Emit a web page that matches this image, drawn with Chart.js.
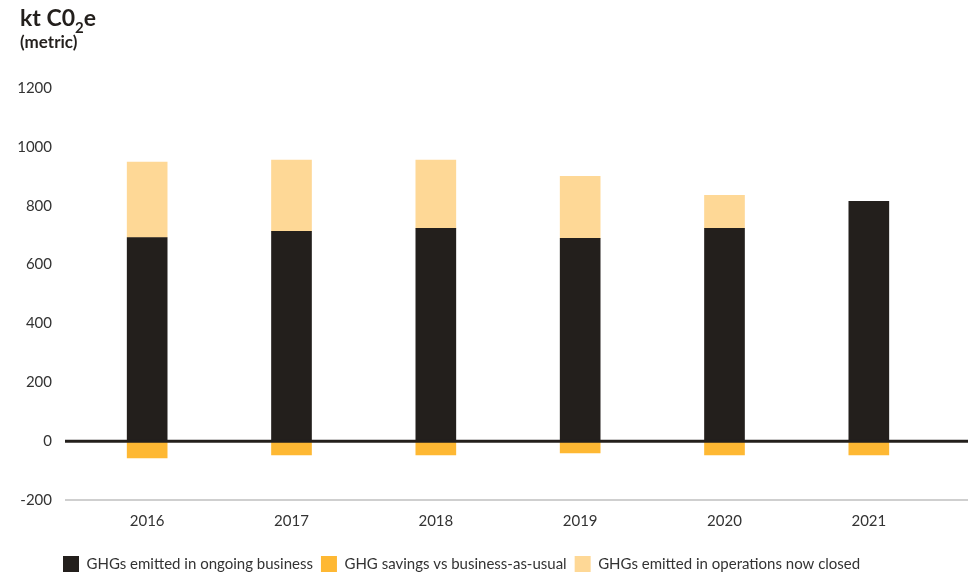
<!DOCTYPE html>
<html>
<head>
<meta charset="utf-8">
<script src="https://cdn.jsdelivr.net/npm/chart.js@4/dist/chart.umd.min.js"></script>
<style>
  html, body { margin: 0; padding: 0; background: #fff; }
  #wrap { position: relative; width: 977px; height: 576px; }
  #title { position: absolute; left: 20px; top: 6px; font-family: "Lato", sans-serif; font-weight: 700; color: #231f1c; line-height: 1; z-index: 2; }
  #title .main { font-size: 23px; }
  #title .main sub { font-size: 15px; vertical-align: -7px; line-height: 0; }
  #title .unit { font-size: 17px; margin-top: 4px; }
  canvas { position: absolute; left: 0; top: 0; }
</style>
</head>
<body>
<div id="wrap">
  <canvas id="c" width="977" height="576"></canvas>
  <div id="title"><div class="main">kt C0<sub>2</sub>e</div><div class="unit">(metric)</div></div>
</div>
<script>
const categories = ["2016", "2017", "2018", "2019", "2020", "2021"];
const ongoingEmissions = [692, 713, 723, 689, 723, 815];
const savingsVsBAU = [-57, -47, -47, -40, -47, -47];
const closedOperations = [256, 242, 232, 211, 112, null];
const yTicks = [-200, 0, 200, 400, 600, 800, 1000, 1200];
const seriesNames = ["GHGs emitted in ongoing business", "GHG savings vs business-as-usual", "GHGs emitted in operations now closed"];

const FONT = { family: "Lato, 'Liberation Sans', sans-serif", size: 15 };

const baseLines = {
  id: 'baseLines',
  afterLayout(chart) {
    const lg = chart.legend;
    if (lg) {
      const dx = 55 - lg.left;
      lg.left += dx; lg.right += dx;
      lg.top += 6; lg.bottom += 6;
    }
  },
  afterDatasetsDraw(chart) {
    const ctx = chart.ctx;
    const y = chart.scales.y;
    const x0 = 65, x1 = 968;
    ctx.save();
    const yb = y.getPixelForValue(yTicks[0]);
    ctx.strokeStyle = '#cfcfcf';
    ctx.lineWidth = 2;
    ctx.beginPath(); ctx.moveTo(x0, yb); ctx.lineTo(x1, yb); ctx.stroke();
    const y0 = y.getPixelForValue(0);
    ctx.strokeStyle = '#231f1c';
    ctx.lineWidth = 3;
    ctx.beginPath(); ctx.moveTo(x0, y0); ctx.lineTo(x1, y0); ctx.stroke();
    ctx.restore();
  }
};

new Chart(document.getElementById('c'), {
  type: 'bar',
  data: {
    labels: categories,
    datasets: [
      { label: seriesNames[0], data: ongoingEmissions, backgroundColor: '#231f1c', stack: 's' },
      { label: seriesNames[1], data: savingsVsBAU, backgroundColor: '#feb833', stack: 's' },
      { label: seriesNames[2], data: closedOperations, backgroundColor: '#fed896', stack: 's' }
    ]
  },
  options: {
    responsive: false,
    animation: false,
    layout: { padding: { left: 0, right: 36, top: 88, bottom: 0 } },
    datasets: { bar: { barThickness: 40, borderWidth: 0 } },
    scales: {
      x: {
        stacked: true,
        grid: { display: false, drawTicks: false },
        border: { display: false },
        ticks: { color: '#333', font: FONT, padding: 12 },
        afterFit(s) { s.height = 42; }
      },
      y: {
        stacked: true,
        min: -200, max: 1200,
        afterBuildTicks(s) { s.ticks = yTicks.map(v => ({ value: v })); },
        grid: { display: false, drawTicks: false },
        border: { display: false },
        ticks: { color: '#333', font: FONT, padding: 23, callback: v => String(v) },
        afterFit(s) { s.width = 75; }
      }
    },
    plugins: {
      title: { display: false },
      tooltip: { enabled: false },
      legend: {
        position: 'bottom',
        align: 'start',
        labels: {
          boxWidth: 16, boxHeight: 16, padding: 8,
          color: '#333', font: FONT
        }
      }
    }
  },
  plugins: [baseLines]
});
</script>
</body>
</html>
